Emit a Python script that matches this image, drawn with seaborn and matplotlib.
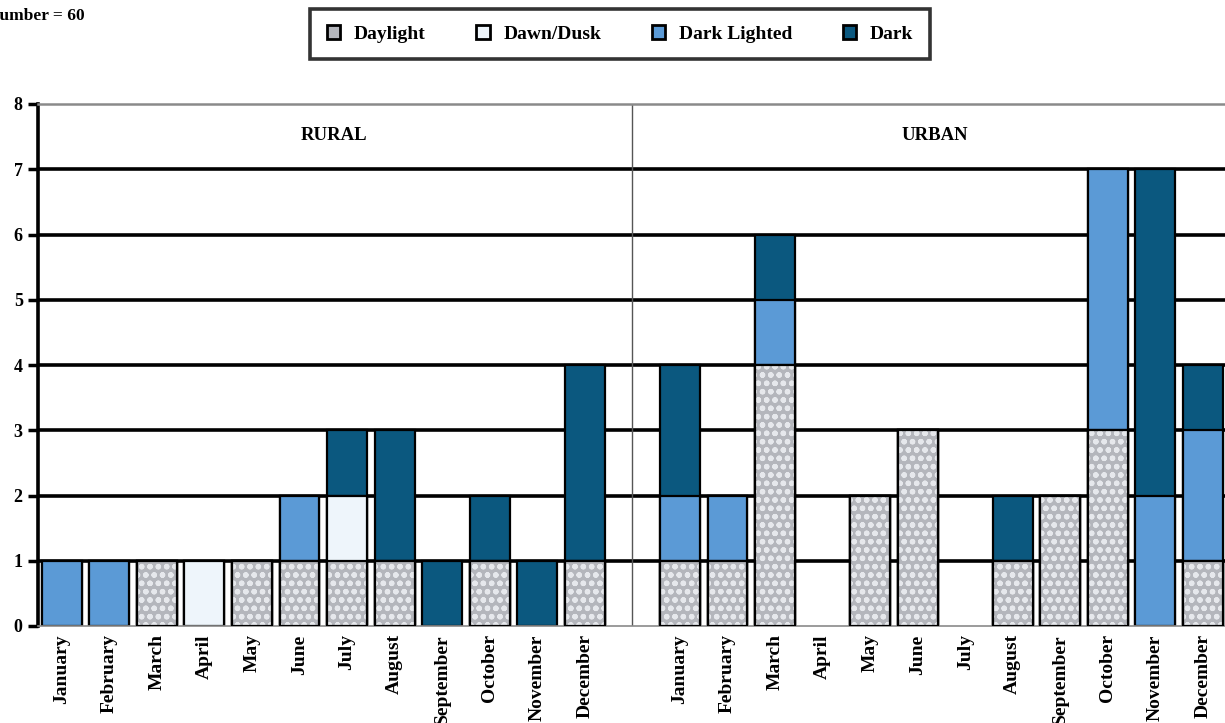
import numpy as np
import pandas as pd
import matplotlib
matplotlib.use("Agg")
import matplotlib.pyplot as plt
from matplotlib.patches import Patch
import seaborn as sns

months = ["January", "February", "March", "April", "May", "June",
          "July", "August", "September", "October", "November", "December"]

# Crash counts per month and lighting condition
rural_daylight      = [0, 0, 1, 0, 1, 1, 1, 1, 0, 1, 0, 1]
rural_dawn_dusk     = [0, 0, 0, 1, 0, 0, 1, 0, 0, 0, 0, 0]
rural_dark_lighted  = [1, 1, 0, 0, 0, 1, 0, 0, 0, 0, 0, 0]
rural_dark          = [0, 0, 0, 0, 0, 0, 1, 2, 1, 1, 1, 3]

urban_daylight      = [1, 1, 4, 0, 2, 3, 0, 1, 2, 3, 0, 1]
urban_dawn_dusk     = [0, 0, 0, 0, 0, 0, 0, 0, 0, 0, 0, 0]
urban_dark_lighted  = [1, 1, 1, 0, 0, 0, 0, 0, 0, 4, 2, 2]
urban_dark          = [2, 0, 1, 0, 0, 0, 0, 1, 0, 0, 5, 1]

conditions = ["Daylight", "Dawn/Dusk", "Dark Lighted", "Dark"]
colors = {"Daylight": "#b4b6bc", "Dawn/Dusk": "#eef5fb",
          "Dark Lighted": "#5b9ad6", "Dark": "#0b587f"}

# Long table: one row per area / month
keys = [f"R-{m}" for m in months] + ["gap"] + [f"U-{m}" for m in months]
rows = []
for area, d, dd, dl, dk in [("R", rural_daylight, rural_dawn_dusk, rural_dark_lighted, rural_dark),
                            ("U", urban_daylight, urban_dawn_dusk, urban_dark_lighted, urban_dark)]:
    for i, m in enumerate(months):
        rows.append({"key": f"{area}-{m}", "Daylight": d[i], "Dawn/Dusk": dd[i],
                     "Dark Lighted": dl[i], "Dark": dk[i]})
df = pd.DataFrame(rows)
cum = df[conditions].cumsum(axis=1)
cum["key"] = df["key"]

plt.rcParams["font.family"] = ["Liberation Serif", "DejaVu Serif"]
plt.rcParams["font.weight"] = "bold"
plt.rcParams["hatch.linewidth"] = 1.6

fig = plt.figure(figsize=(12.25, 7.23), dpi=100)
ax = fig.add_axes([38 / 1225, 1 - 626 / 723, 1 - 38 / 1225, (626 - 104) / 723])

W = 0.84
# Stacked bars: draw cumulative totals from tallest layer down
for cond in ["Dark", "Dark Lighted", "Dawn/Dusk"]:
    layer = cum[cum[cond] > 0]
    sns.barplot(data=layer, x="key", y=cond, order=keys, color=colors[cond],
                saturation=1, width=W, edgecolor="black", linewidth=1.6,
                errorbar=None, ax=ax, zorder=2)
layer = cum[cum["Daylight"] > 0]
sns.barplot(data=layer, x="key", y="Daylight", order=keys, color=colors["Daylight"],
            saturation=1, width=W, edgecolor="#e6e8ec", linewidth=0, hatch="oo",
            errorbar=None, ax=ax, zorder=2)
sns.barplot(data=layer, x="key", y="Daylight", order=keys, fill=False,
            width=W, edgecolor="black", linewidth=1.6,
            errorbar=None, ax=ax, zorder=3)

# Grid lines behind bars
for yv in range(1, 8):
    ax.axhline(yv, color="black", lw=2.6, zorder=0.5)
ax.axvline(12, color="#555555", lw=1.0, zorder=0.5)

ax.set_xlim(-0.5, (1225 - 63) / 47.5)
ax.set_ylim(0, 8)
ax.set_yticks(range(0, 9))
ax.tick_params(axis="y", labelsize=13, length=7, width=2.5, direction="out", pad=4)
ax.set_xticks([i for i in range(25) if i != 12])
ax.set_xticklabels(months + months, rotation=90, fontsize=14, fontweight="bold")
ax.tick_params(axis="x", length=0, pad=6)
ax.set_xlabel("")
ax.set_ylabel("")
for lab in ax.get_yticklabels():
    lab.set_fontweight("bold")

ax.spines["left"].set_linewidth(2.6)
ax.spines["left"].set_color("black")
ax.spines["top"].set_color("#8a8a8a")
ax.spines["top"].set_linewidth(1.8)
ax.spines["bottom"].set_color("#8a8a8a")
ax.spines["bottom"].set_linewidth(1.2)
ax.spines["right"].set_visible(False)

ax.text(5.73, 7.51, "RURAL", ha="center", va="center", fontsize=13.5, fontweight="bold")
ax.text(18.36, 7.51, "URBAN", ha="center", va="center", fontsize=13.5, fontweight="bold")

fig.text(85 / 1225, 1 - 16 / 723, "Number = 60", ha="right", va="center",
         fontsize=12.5, fontweight="bold")

handles = [Patch(facecolor=colors[c], edgecolor="black", linewidth=2) for c in conditions]
leg = fig.legend(handles, conditions, loc="center", ncol=4,
                 bbox_to_anchor=(620 / 1225, 1 - 34 / 723), frameon=True, fancybox=False,
                 edgecolor="black", handlelength=0.7, handleheight=0.7,
                 columnspacing=2.6, handletextpad=0.7, borderpad=0.85,
                 borderaxespad=0, prop={"size": 14, "weight": "bold"})
leg.get_frame().set_linewidth(2.6)

fig.savefig("out.png", dpi=100)
